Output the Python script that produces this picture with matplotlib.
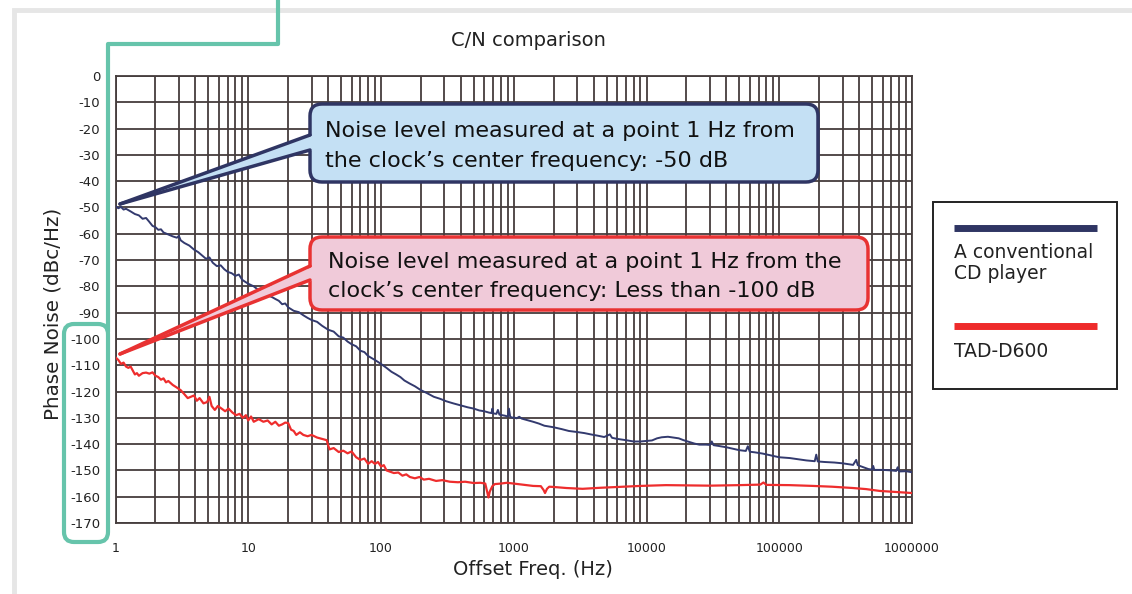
import matplotlib.pyplot as plt
from matplotlib.patches import FancyBboxPatch, Polygon

plt.rcParams['font.family'] = ['DejaVu Sans']

# conventional CD player (navy curve)
freq_cd = [1, 1.05, 1.1, 1.15, 1.2, 1.3, 1.4, 1.5, 1.6, 1.7, 1.8, 1.9, 2.0, 2.1, 2.2, 2.3, 2.5,
           2.7, 2.9, 3.0, 3.1, 3.3, 3.6, 3.9, 4.2, 4.5, 4.8, 5.1, 5.4, 5.8, 6.2, 6.6, 7.0, 7.5,
           8, 8.5, 9, 9.5, 10, 11, 12, 13, 14, 15, 16, 17, 18, 19, 20, 22, 24, 26, 28, 30, 33,
           36, 40, 44, 48, 52, 56, 60, 65, 70, 75, 80, 90, 100, 110, 120, 130, 140, 150, 165,
           180, 200, 220, 250, 280, 310, 350, 400, 450, 500, 550, 600, 650, 680, 690, 700, 740,
           760, 780, 820, 860, 900, 920, 940, 980, 1000, 1050, 1100, 1150, 1250, 1400, 1550,
           1700, 1850, 2000, 2300, 2600, 3000, 3400, 3800, 4300, 4800, 5300, 5500, 6000, 7000,
           8000, 9000, 10000, 11000, 12000, 13000, 14500, 16000, 17500, 19000, 21000, 23000,
           25000, 28000, 30000, 31000, 32000, 35000, 40000, 45000, 50000, 56000, 58000, 60000,
           65000, 75000, 85000, 100000, 120000, 140000, 160000, 185000, 190000, 195000, 220000,
           260000, 300000, 360000, 380000, 390000, 430000, 470000, 500000, 510000, 520000,
           600000, 700000, 760000, 780000, 800000, 900000, 1000000]
noise_cd = [-49.5, -50.3, -49.8, -50.8, -50.5, -51.5, -52.5, -53, -54.3, -54, -55.5, -57, -57.5,
            -58.5, -58.3, -59.5, -60.3, -61, -61.5, -60.8, -62.5, -63.5, -64.5, -66, -67, -68.3,
            -69.5, -69, -71, -72.3, -72, -73.5, -74.5, -75, -76, -75.5, -77.5, -78.3, -79, -80,
            -81.5, -82, -83.5, -84, -84.8, -85.5, -86.8, -86.5, -88, -89.3, -89.8, -91, -92,
            -92.8, -93.5, -95, -96.5, -97.2, -99, -99.5, -101, -102, -102.8, -104.5, -105,
            -106.5, -108, -109.5, -111, -112.5, -113.5, -114.5, -115.8, -117, -118, -119.5,
            -120.5, -122, -122.8, -123.7, -124.5, -125.3, -126, -126.5, -127.2, -127.5, -128,
            -128.2, -126.5, -128.3, -128.5, -127, -128.8, -129, -129.2, -129.5, -126.5, -129.6,
            -130, -129.8, -130.2, -129.6, -130.3, -130.8, -131.5, -132.2, -133, -133.3, -133.6,
            -134.3, -135, -135.4, -135.8, -136.3, -136.8, -137.3, -136.3, -137.6, -138, -138.5,
            -139, -139, -138.8, -138.6, -137.8, -137.4, -137.2, -137.5, -137.8, -138.5, -139.2,
            -139.8, -140.2, -140.2, -140.3, -139.0, -140.4, -140.7, -141.2, -141.8, -142.3,
            -142.6, -140.8, -142.9, -143.1, -143.6, -144.2, -145, -145.3, -145.8, -146.2,
            -146.5, -144.0, -146.6, -146.8, -147.0, -147.3, -147.9, -146.0, -148.0, -148.8,
            -149.5, -149.7, -148.3, -149.8, -149.8, -150.0, -150.2, -148.8, -150.4, -150.3,
            -150.7]

# TAD-D600 (red curve)
freq_tad = [1, 1.05, 1.1, 1.15, 1.2, 1.25, 1.3, 1.35, 1.4, 1.45, 1.5, 1.6, 1.7, 1.8, 1.9, 2.0,
            2.1, 2.2, 2.3, 2.4, 2.5, 2.7, 2.9, 3.1, 3.3, 3.5, 3.7, 3.9, 4.1, 4.3, 4.6, 4.9, 5.1,
            5.3, 5.6, 5.9, 6.3, 6.7, 7.1, 7.6, 8.1, 8.6, 9.1, 9.6, 10, 10.5, 11, 12, 13, 14, 15,
            16, 17, 18, 19, 20, 21, 22, 23, 24.5, 26, 28, 30, 33, 36, 39, 40, 41, 44, 48, 52, 56,
            60, 65, 70, 75, 80, 85, 90, 95, 100, 105, 110, 117, 125, 135, 145, 155, 165, 180,
            195, 210, 230, 260, 290, 330, 380, 430, 500, 560, 610, 630, 645, 660, 690, 720, 800,
            890, 1000, 1200, 1400, 1600, 1680, 1720, 1780, 1850, 2000, 2500, 3300, 4500, 6000,
            9000, 14000, 20000, 30000, 50000, 72000, 76000, 80000, 120000, 180000, 250000,
            360000, 450000, 570000, 750000, 1000000]
noise_tad = [-107, -108, -109.5, -109, -110.5, -111, -110.5, -112, -113.5, -113, -114, -113,
             -112.8, -113.2, -112.7, -114, -114.5, -115.5, -115, -116.5, -116, -117.5, -118.5,
             -119.5, -121, -122.5, -122, -121.5, -123.5, -122.5, -124.5, -124, -122, -125.5,
             -127, -125.5, -126.5, -127.5, -126.5, -128, -129, -128.5, -130, -129, -131, -129.5,
             -131.5, -130.5, -131.5, -131, -132.5, -131.5, -133, -132.5, -131.8, -132, -134.5,
             -135, -136.5, -135.5, -136.5, -137, -136.5, -137.5, -138, -138.5, -140.5, -142,
             -141.5, -143, -142.5, -143.5, -142.8, -145, -146, -145.5, -147.5, -146.5, -147.5,
             -146.8, -148.5, -148, -150, -150.5, -151, -150.8, -152, -151.5, -152.5, -153,
             -152.5, -153.5, -153.2, -154, -153.7, -154.3, -154.5, -154.3, -154.8, -154.7, -155,
             -158, -160.3, -158, -156, -155.2, -155, -154.7, -155, -155.5, -155.9, -156, -157.5,
             -158.6, -157, -156.2, -156.3, -156.7, -157, -156.6, -156.3, -155.9, -155.6, -155.7,
             -155.8, -155.6, -155.4, -154.6, -155.5, -155.6, -155.9, -156.2, -156.7, -157.1,
             -157.8, -158.2, -158.6]

x_ticks = [1, 10, 100, 1000, 10000, 100000, 1000000]
y_ticks = list(range(-170, 1, 10))

navy = '#333a6e'
red = '#ee2d2d'
grid_c = '#453d3d'
teal = '#66c4ab'
txt = '#222222'

W, H = 1132, 594
fig = plt.figure(figsize=(W / 100, H / 100), dpi=100)

ax = fig.add_axes([115.5 / W, (H - 523) / H, (912 - 115.5) / W, (523 - 76) / H])
ax.set_xscale('log')
ax.set_xlim(1, 1e6)
ax.set_ylim(-170, 0)
ax.plot(freq_cd, noise_cd, color=navy, lw=1.4, zorder=3)
ax.plot(freq_tad, noise_tad, color=red, lw=1.6, zorder=3)
ax.set_xticks(x_ticks)
ax.set_xticklabels([str(v) for v in x_ticks])
ax.set_yticks(y_ticks)
ax.set_yticklabels([str(v) for v in y_ticks])
ax.tick_params(which='both', length=0, labelsize=9.5, colors=txt)
ax.tick_params(axis='x', labelsize=9, pad=14)
ax.tick_params(axis='y', pad=11)
ax.grid(which='both', axis='x', color=grid_c, lw=1.3)
ax.grid(which='major', axis='y', color=grid_c, lw=1.3)
for s in ax.spines.values():
    s.set_color(grid_c)
    s.set_linewidth(1.3)
ax.set_xlabel('Offset Freq. (Hz)', fontsize=14, color=txt)
ax.set_ylabel('Phase Noise (dBc/Hz)', fontsize=14.3, color=txt)
ax.xaxis.set_label_coords(0.524, -0.083)
ax.yaxis.set_label_coords(-0.066, 0.468)

# decoration layer in pixel coordinates
deco = fig.add_axes([0, 0, 1, 1], zorder=5)
deco.set_xlim(0, W)
deco.set_ylim(H, 0)
deco.axis('off')
deco.patch.set_alpha(0)

deco.plot([W, 14, 14], [9.5, 9.5, H], color='#e6e6e6', lw=3.5, solid_joinstyle='miter')

deco.plot([278, 278, 108, 108], [0, 44, 44, 330], color=teal, lw=3, solid_joinstyle='round')
deco.add_patch(FancyBboxPatch((64, 324), 44, 218, boxstyle='round,pad=0,rounding_size=10',
                              fc='none', ec=teal, lw=3))

deco.text(528, 41, 'C/N comparison', fontsize=14, ha='center', va='center', color=txt)


def callout(x0, y0, x1, y1, base, tip, fc, ec, lines, tx, baselines):
    deco.add_patch(FancyBboxPatch((x0, y0), x1 - x0, y1 - y0,
                                  boxstyle='round,pad=0,rounding_size=12',
                                  fc=fc, ec=ec, lw=2.5, zorder=2))
    deco.add_patch(Polygon([(x0 + 4, base[0]), tip, (x0 + 4, base[1])], closed=True,
                           fc=fc, ec='none', zorder=3))
    deco.plot([x0, tip[0]], [base[0], tip[1]], color=ec, lw=2.5, zorder=4,
              solid_capstyle='round')
    deco.plot([x0, tip[0]], [base[1], tip[1]], color=ec, lw=2.5, zorder=4,
              solid_capstyle='round')
    for line, by in zip(lines, baselines):
        deco.text(tx, by, line, fontsize=16, va='baseline', ha='left', color='#111111', zorder=5)


callout(310, 104, 818, 182, (135, 150), (120, 204), '#c4e0f4', '#2f3563',
        ['Noise level measured at a point 1 Hz from',
         'the clock\u2019s center frequency: -50 dB'], 325, [137, 167])
callout(310, 237, 868, 310, (266, 280), (120, 354), '#f0cad9', '#e83232',
        ['Noise level measured at a point 1 Hz from the',
         'clock\u2019s center frequency: Less than -100 dB'], 328, [268, 297])

# legend box
deco.add_patch(plt.Rectangle((933, 202), 184, 187, fc='white', ec=txt, lw=1.4))
deco.plot([954, 1097], [228, 228], color='#2f3563', lw=5, solid_capstyle='butt')
deco.text(954, 258, 'A conventional', fontsize=13.5, va='baseline', color=txt)
deco.text(954, 279, 'CD player', fontsize=13.5, va='baseline', color=txt)
deco.plot([954, 1097], [326, 326], color='#ee2b2b', lw=5, solid_capstyle='butt')
deco.text(954, 357, 'TAD-D600', fontsize=13.5, va='baseline', color=txt)

fig.savefig('out.png', dpi=100)
